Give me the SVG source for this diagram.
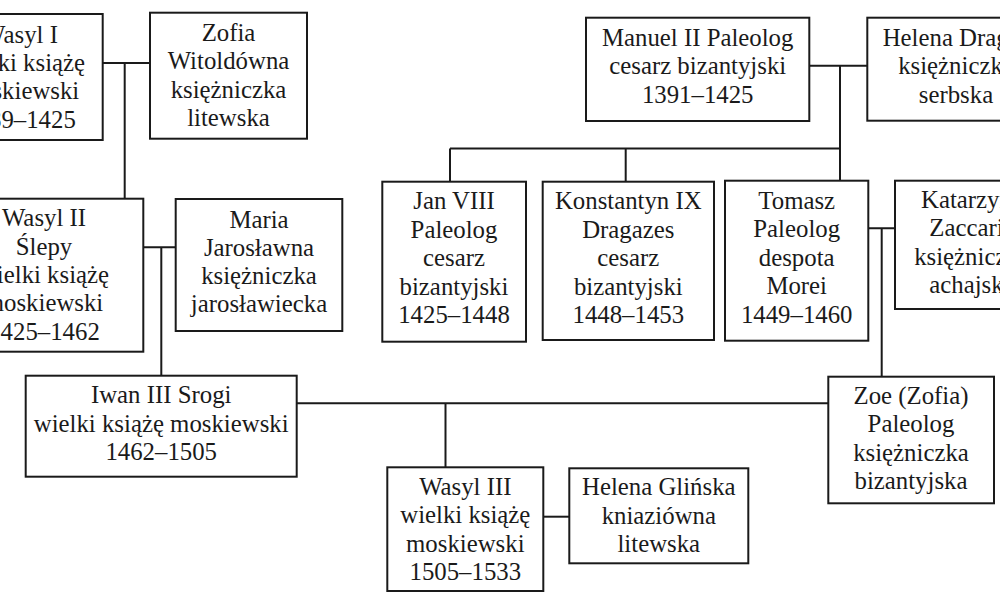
<svg xmlns="http://www.w3.org/2000/svg" width="1000" height="606" viewBox="0 0 1000 606">
<style>
.box{fill:#fff;stroke:#1a1a1a;stroke-width:2}
.ln{fill:none;stroke:#1a1a1a;stroke-width:2}
text{font-family:"Liberation Serif","Times New Roman",serif;font-size:24.8px;fill:#1a1a1a;text-anchor:middle}
</style>
<rect width="1000" height="606" fill="#fff"/>
<g id="connectors">
<path class="ln" d="M103 63H150M124.7 63V198.7"/>
<path class="ln" d="M143.3 247.3H175.7M161.3 247.3V375.7"/>
<path class="ln" d="M809.3 65.7H867.3M840 65.7V180.7"/>
<path class="ln" d="M450 148.5H840M450 148.5V181.7M625.7 148.5V181.7"/>
<path class="ln" d="M868.3 228.3H895M881.7 228.3V376.7"/>
<path class="ln" d="M296.7 403.3H828.3M445.5 403.3V467.3"/>
<path class="ln" d="M543.3 516.7H569.3"/>
</g>
<g id="wasyl1">
<rect class="box" x="-62" y="14" width="164.7" height="126"/>
<text x="20" y="42.7">Wasyl I</text>
<text x="20" y="71">wielki książę</text>
<text x="20" y="99.3">moskiewski</text>
<text x="20" y="127.6">1389–1425</text>
</g>
<g id="zofia">
<rect class="box" x="150" y="12.7" width="157" height="126"/>
<text x="228.5" y="41">Zofia</text>
<text x="228.5" y="69.3">Witoldówna</text>
<text x="228.5" y="97.6">księżniczka</text>
<text x="228.5" y="126">litewska</text>
</g>
<g id="wasyl2">
<rect class="box" x="-55" y="198.7" width="198.3" height="153"/>
<text x="44" y="226.3">Wasyl II</text>
<text x="44" y="254.6">Ślepy</text>
<text x="44" y="282.9">wielki książę</text>
<text x="44" y="311.2">moskiewski</text>
<text x="44" y="339.5">1425–1462</text>
</g>
<g id="maria">
<rect class="box" x="175.7" y="199" width="166.6" height="132"/>
<text x="259" y="227.7">Maria</text>
<text x="259" y="255.8">Jarosławna</text>
<text x="259" y="284">księżniczka</text>
<text x="259" y="312.2">jarosławiecka</text>
</g>
<g id="manuel">
<rect class="box" x="586" y="17.7" width="223.3" height="103.3"/>
<text x="697.7" y="45.5">Manuel II Paleolog</text>
<text x="697.7" y="74">cesarz bizantyjski</text>
<text x="697.7" y="102.5">1391–1425</text>
</g>
<g id="helena-dragas">
<rect class="box" x="867.3" y="17.7" width="178" height="103"/>
<text x="956" y="45.5">Helena Dragaš</text>
<text x="956" y="74">księżniczka</text>
<text x="956" y="102.5">serbska</text>
</g>
<g id="jan8">
<rect class="box" x="382.3" y="181.7" width="143.7" height="160"/>
<text x="454" y="209">Jan VIII</text>
<text x="454" y="237.5">Paleolog</text>
<text x="454" y="266">cesarz</text>
<text x="454" y="294.5">bizantyjski</text>
<text x="454" y="323">1425–1448</text>
</g>
<g id="konstantyn9">
<rect class="box" x="542.7" y="181.7" width="171.3" height="158.3"/>
<text x="628.3" y="209">Konstantyn IX</text>
<text x="628.3" y="237.5">Dragazes</text>
<text x="628.3" y="266">cesarz</text>
<text x="628.3" y="294.5">bizantyjski</text>
<text x="628.3" y="323">1448–1453</text>
</g>
<g id="tomasz">
<rect class="box" x="725" y="180.7" width="143.3" height="160"/>
<text x="796.7" y="208.5">Tomasz</text>
<text x="796.7" y="237">Paleolog</text>
<text x="796.7" y="265.5">despota</text>
<text x="796.7" y="294">Morei</text>
<text x="796.7" y="322.5">1449–1460</text>
</g>
<g id="katarzyna">
<rect class="box" x="895" y="180.7" width="154" height="128.3"/>
<text x="972" y="208">Katarzyna</text>
<text x="972" y="236.4">Zaccaria</text>
<text x="972" y="264.8">księżniczka</text>
<text x="972" y="293.2">achajska</text>
</g>
<g id="zoe">
<rect class="box" x="828.3" y="376.7" width="165.7" height="126.6"/>
<text x="911" y="403.5">Zoe (Zofia)</text>
<text x="911" y="432">Paleolog</text>
<text x="911" y="460.5">księżniczka</text>
<text x="911" y="489">bizantyjska</text>
</g>
<g id="iwan3">
<rect class="box" x="25.7" y="375.7" width="271" height="101"/>
<text x="161.2" y="403">Iwan III Srogi</text>
<text x="161.2" y="431.5">wielki książę moskiewski</text>
<text x="161.2" y="460">1462–1505</text>
</g>
<g id="wasyl3">
<rect class="box" x="387.3" y="467.3" width="156" height="123.7"/>
<text x="465.3" y="494.5">Wasyl III</text>
<text x="465.3" y="523">wielki książę</text>
<text x="465.3" y="551.5">moskiewski</text>
<text x="465.3" y="580">1505–1533</text>
</g>
<g id="helena-glinska">
<rect class="box" x="569.3" y="468.3" width="179" height="95"/>
<text x="658.8" y="495">Helena Glińska</text>
<text x="658.8" y="523.5">kniaziówna</text>
<text x="658.8" y="552">litewska</text>
</g>
</svg>
